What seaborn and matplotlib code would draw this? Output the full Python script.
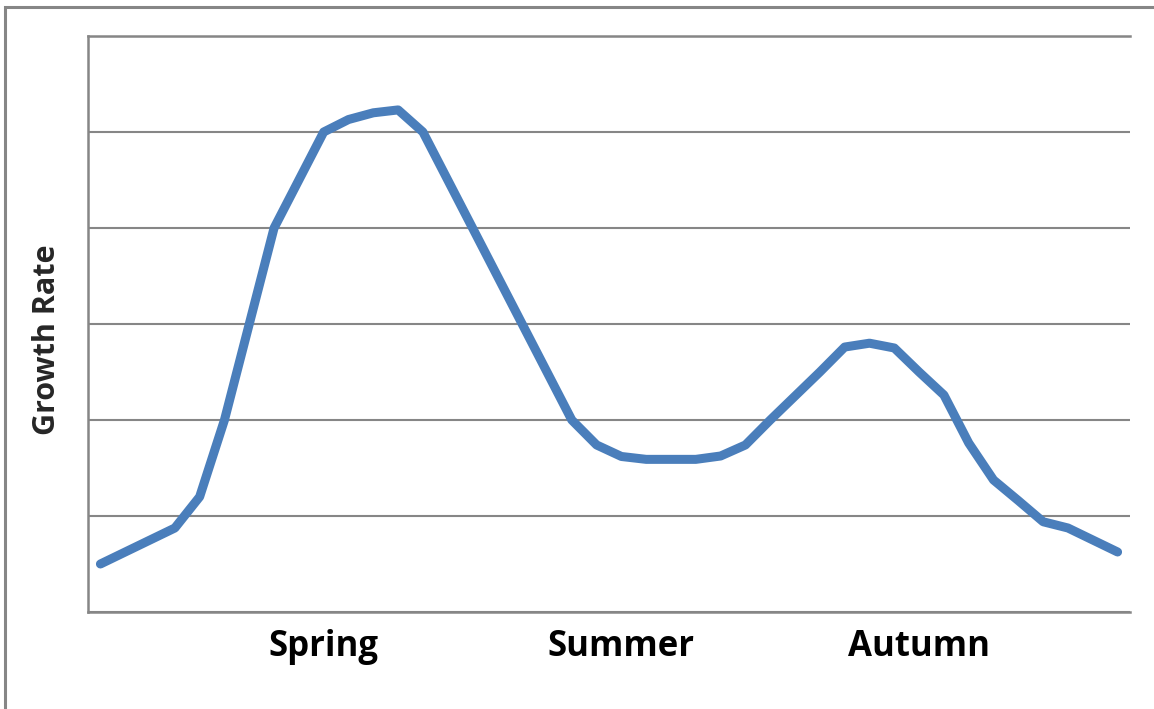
import numpy as np
import pandas as pd
import matplotlib
matplotlib.use("Agg")
import matplotlib.pyplot as plt
from matplotlib.patches import Rectangle
import seaborn as sns

# growth curve, one value per step along the year
growth = [0.5, 0.625, 0.75, 0.875, 1.2, 2.0, 3.0, 4.0, 4.5, 5.0,
          5.13, 5.2, 5.23, 5.0, 4.5, 4.0, 3.5, 3.0, 2.5, 2.0,
          1.74, 1.62, 1.59, 1.59, 1.59, 1.625, 1.74, 2.0, 2.25, 2.5,
          2.76, 2.8, 2.75, 2.5, 2.26, 1.76, 1.375, 1.16, 0.94, 0.875,
          0.75, 0.625]
season_labels = ["Spring", "Summer", "Autumn"]
season_pos = [9, 21, 33]

df = pd.DataFrame({"step": np.arange(len(growth)), "growth": growth})

sns.set_style("white")
plt.rcParams['font.family'] = ['Open Sans', 'DejaVu Sans']

fig = plt.figure(figsize=(11.54, 7.09), dpi=100)
W, H = 1154, 709
ax = fig.add_axes([88 / W, (H - 612) / H, (1130 - 88) / W, (612 - 36) / H])

grey = "#868686"
sns.lineplot(data=df, x="step", y="growth", ax=ax, color="#4A7EBB",
             linewidth=6.5, solid_capstyle="round", solid_joinstyle="round")

ax.set_xlim(-0.5, len(growth) - 0.5)
ax.set_ylim(0, 6)
ax.set_yticks(np.arange(0, 7, 1))
ax.set_yticklabels([])
ax.yaxis.grid(True, color=grey, linewidth=1.5)
ax.set_axisbelow(True)
ax.tick_params(length=0)

ax.set_xticks(season_pos)
ax.set_xticklabels(season_labels, fontsize=25, fontweight="bold", color="black")
ax.tick_params(axis="x", pad=12)

ax.set_xlabel("")
ax.set_ylabel("")
fig.text(47 / W, 1 - 340 / H, "Growth Rate", rotation=90, ha="center",
         va="center", fontsize=22, fontweight="bold")

for side in ["left", "bottom", "top"]:
    ax.spines[side].set_color(grey)
    ax.spines[side].set_linewidth(1.8)
ax.spines["right"].set_visible(False)

# outer chart frame, cut off on the right and bottom
fig.patches.append(Rectangle((5 / W, -0.1), 1.2, (H - 7) / H + 0.1,
                             transform=fig.transFigure, fill=False,
                             edgecolor=grey, linewidth=2.2))

fig.savefig("out.png", dpi=100)
